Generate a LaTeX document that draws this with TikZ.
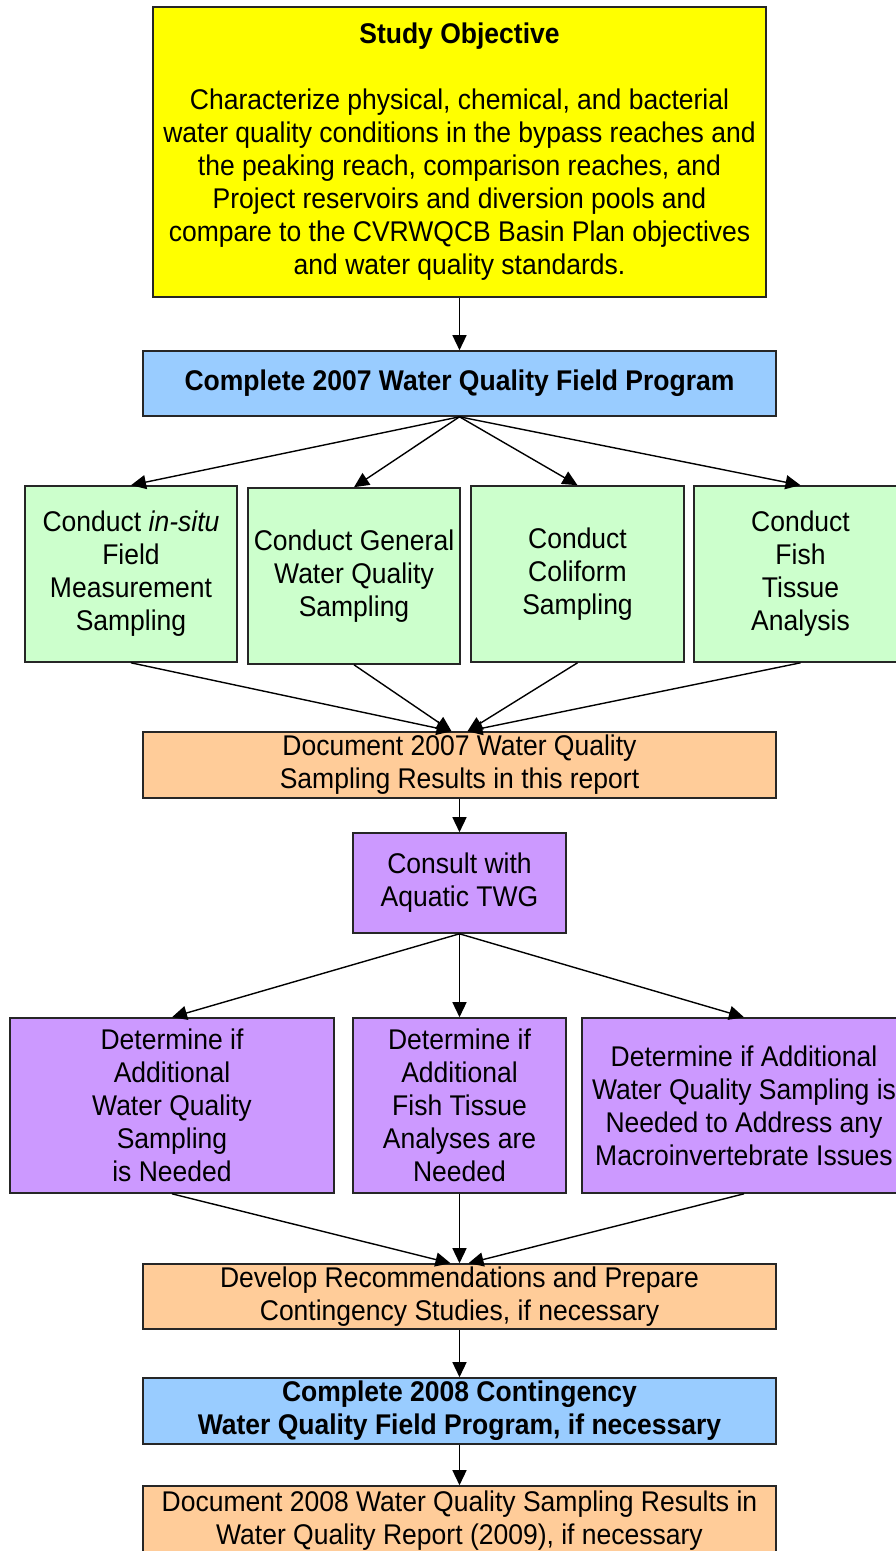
\documentclass[tikz,border=0pt]{standalone}
\usepackage{fontspec}
\setmainfont{Liberation Sans}[FakeStretch=0.93]
\usetikzlibrary{arrows.meta}
\definecolor{objyellow}{HTML}{FFFF00}
\definecolor{progblue}{HTML}{99CCFF}
\definecolor{taskgreen}{HTML}{CCFFCC}
\definecolor{docorange}{HTML}{FFCC99}
\definecolor{twgpurple}{HTML}{CC99FF}
\tikzset{every node/.style={inner sep=0pt, align=center, font=\fontsize{28.5}{33}\selectfont},
         flowbox/.style={draw=black!85, line width=1.6pt, rectangle},
         arr/.style={-{Triangle[length=15pt,width=14pt]}, line width=1.4pt, black}}

\begin{document}
\begin{tikzpicture}[x=1pt,y=-1pt]
   \clip (0,0) rectangle (896,1551);
   % study objective
   \node[flowbox, fill=objyellow, minimum width=613pt, minimum height=290pt] (obj) at (459.5,152)
     {\textbf{Study Objective}\\[33pt]
      Characterize physical, chemical, and bacterial\\
      water quality conditions in the bypass reaches and\\
      the peaking reach, comparison reaches, and\\
      Project reservoirs and diversion pools and\\
      compare to the CVRWQCB Basin Plan objectives\\
      and water quality standards.};
   \node[flowbox, fill=progblue, minimum width=633pt, minimum height=65pt] (prog) at (459.5,383.5)
     {\textbf{Complete 2007 Water Quality Field Program}};
   % 2007 tasks
   \node[flowbox, fill=taskgreen, minimum width=212pt, minimum height=176pt] (insitu) at (131,574)
     {Conduct \textit{in-situ}\\Field\\Measurement\\Sampling};
   \node[flowbox, fill=taskgreen, minimum width=212pt, minimum height=176pt] (general) at (354,576)
     {Conduct General\\Water Quality\\Sampling};
   \node[flowbox, fill=taskgreen, minimum width=213pt, minimum height=176pt] (coliform) at (577.5,574)
     {Conduct\\Coliform\\Sampling};
   \node[flowbox, fill=taskgreen, minimum width=213pt, minimum height=176pt] (fish) at (800.5,574)
     {Conduct\\Fish\\Tissue\\Analysis};
   \node[flowbox, fill=docorange, minimum width=633pt, minimum height=66pt] (doc07) at (459.5,765)
     {Document 2007 Water Quality\\Sampling Results in this report};
   \node[flowbox, fill=twgpurple, minimum width=213pt, minimum height=100pt] (twg) at (459.5,883)
     {Consult with\\Aquatic TWG};
   % decisions
   \node[flowbox, fill=twgpurple, minimum width=324pt, minimum height=175pt] (needwq) at (172,1105.5)
     {Determine if\\Additional\\Water Quality\\Sampling\\is Needed};
   \node[flowbox, fill=twgpurple, minimum width=213pt, minimum height=175pt] (needfish) at (459.5,1105.5)
     {Determine if\\Additional\\Fish Tissue\\Analyses are\\Needed};
   \node[flowbox, fill=twgpurple, minimum width=324pt, minimum height=175pt] (needmacro) at (744,1105.5)
     {Determine if Additional\\Water Quality Sampling is\\Needed to Address any\\Macroinvertebrate Issues};
   \node[flowbox, fill=docorange, minimum width=633pt, minimum height=65pt] (recs) at (459.5,1296.5)
     {Develop Recommendations and Prepare\\Contingency Studies, if necessary};
   \node[flowbox, fill=progblue, minimum width=633pt, minimum height=66pt] (prog08) at (459.5,1411)
     {\textbf{Complete 2008 Contingency}\\\textbf{Water Quality Field Program, if necessary}};
   \node[flowbox, fill=docorange, minimum width=633pt, minimum height=70pt] (doc08) at (459.5,1521)
     {Document 2008 Water Quality Sampling Results in\\Water Quality Report (2009), if necessary};
   % connectors
   \draw[arr] (obj) -- (prog);
   \foreach \t in {insitu,general,coliform,fish}
     \draw[arr] (prog.south) -- (\t.north);
   \foreach \t in {insitu,general}
     \draw[arr] (\t.south) -- ([xshift=-8pt]doc07.north);
   \foreach \t in {coliform,fish}
     \draw[arr] (\t.south) -- ([xshift=8pt]doc07.north);
   \draw[arr] (doc07) -- (twg);
   \foreach \t in {needwq,needfish,needmacro}
     \draw[arr] (twg.south) -- (\t.north);
   \draw[arr] (needwq.south) -- ([xshift=-9pt]recs.north);
   \draw[arr] (needfish) -- (recs);
   \draw[arr] (needmacro.south) -- ([xshift=9pt]recs.north);
   \draw[arr] (recs) -- (prog08);
   \draw[arr] (prog08) -- (doc08);
\end{tikzpicture}
\end{document}
